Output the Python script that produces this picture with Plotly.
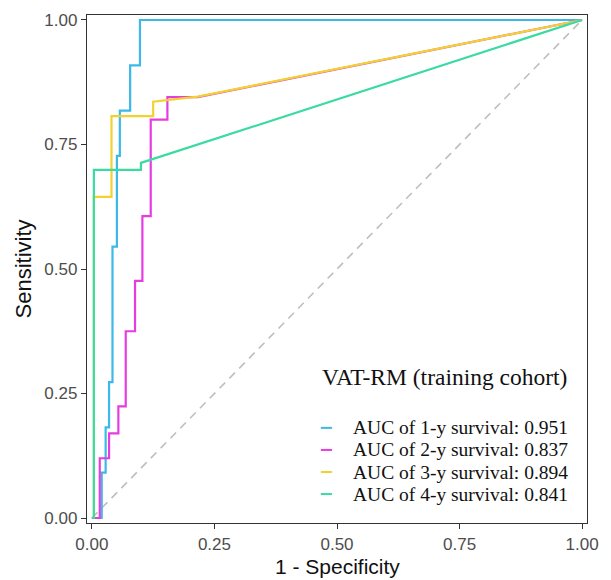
import plotly.graph_objects as go

# ROC curves (1 - specificity, sensitivity)
fpr_1y = [0, 0.020, 0.020, 0.028, 0.028, 0.035, 0.035, 0.042, 0.042, 0.051, 0.051, 0.057, 0.057, 0.078, 0.078, 0.098, 0.098, 1]
tpr_1y = [0, 0, 0.091, 0.091, 0.182, 0.182, 0.273, 0.273, 0.545, 0.545, 0.727, 0.727, 0.818, 0.818, 0.909, 0.909, 1, 1]

fpr_2y = [0, 0.016, 0.016, 0.035, 0.035, 0.054, 0.054, 0.069, 0.069, 0.088, 0.088, 0.103, 0.103, 0.120, 0.120, 0.154, 0.154, 0.216, 1]
tpr_2y = [0, 0, 0.120, 0.120, 0.170, 0.170, 0.224, 0.224, 0.375, 0.375, 0.476, 0.476, 0.606, 0.606, 0.800, 0.800, 0.845, 0.845, 1]

fpr_3y = [0, 0.004, 0.004, 0.040, 0.040, 0.125, 0.125, 0.216, 1]
tpr_3y = [0, 0, 0.645, 0.645, 0.807, 0.807, 0.836, 0.846, 1]

fpr_4y = [0, 0.004, 0.004, 0.100, 0.100, 1]
tpr_4y = [0, 0, 0.699, 0.699, 0.713, 1]

years = ["1-y", "2-y", "3-y", "4-y"]
auc = [0.951, 0.837, 0.894, 0.841]
colors = ["#3CB9E8", "#E63DE0", "#F2D22E", "#3ADBA0"]
tick_vals = [0, 0.25, 0.5, 0.75, 1]

curves = [(fpr_1y, tpr_1y), (fpr_2y, tpr_2y), (fpr_3y, tpr_3y), (fpr_4y, tpr_4y)]

fig = go.Figure()

# reference diagonal
fig.add_trace(go.Scatter(x=[0, 1], y=[0, 1], mode="lines",
                         line=dict(color="#BEBEBE", width=1.6, dash="8px,6px"),
                         showlegend=False, hoverinfo="skip"))

for (fx, ty), c, yr, a in zip(curves, colors, years, auc):
    fig.add_trace(go.Scatter(x=fx, y=ty, mode="lines",
                             line=dict(color=c, width=2.2),
                             name="AUC of %s survival: %.3f" % (yr, a),
                             showlegend=False))

# hand-made legend (ggplot style, inside the panel)
serif = "Liberation Serif, Times New Roman, serif"
fig.add_annotation(x=0.72, y=0.283, xref="x", yref="y", showarrow=False,
                   text="VAT-RM (training cohort)", font=dict(family=serif, size=23.5, color="#111"))
for i, (yr, a, c) in enumerate(zip(years, auc, colors)):
    ly = 0.181 - i * 0.0443
    fig.add_shape(type="line", xref="x", yref="y", x0=0.467, x1=0.49, y0=ly, y1=ly,
                  line=dict(color=c, width=2))
    fig.add_annotation(x=0.529, y=ly, xref="x", yref="y", showarrow=False, xanchor="left",
                       text="AUC of %s survival: %.3f" % (yr, a),
                       font=dict(family=serif, size=19.5, color="#111"))

# x title as an annotation (standoff is ignored without automargin)
fig.add_annotation(x=0.5, y=0, xref="paper", yref="paper", showarrow=False,
                   yanchor="middle", yshift=-43, text="1 - Specificity",
                   font=dict(family="Liberation Sans, Arial", size=21, color="#111"))

axis_style = dict(range=[-0.01, 1.01], tickvals=tick_vals, tickformat=".2f",
                  showgrid=False, zeroline=False, showline=True, mirror=True,
                  linecolor="#333333", linewidth=1.3, ticks="outside", ticklen=5,
                  tickcolor="#333333", tickwidth=1, automargin=False,
                  tickfont=dict(family="Liberation Sans, Arial", size=17, color="#4D4D4D"))

fig.update_layout(
    width=611, height=580,
    margin=dict(l=87, r=24, t=15, b=57),
    paper_bgcolor="white", plot_bgcolor="white",
    xaxis=axis_style,
    yaxis=dict(axis_style, title=dict(text="Sensitivity", standoff=6,
               font=dict(family="Liberation Sans, Arial", size=22, color="#111"))),
)

# drop the page's default 8px body margin so the figure fills the window
fig.write_html("out.html", config={"displayModeBar": False},
               post_script="document.body.style.margin='0';")
